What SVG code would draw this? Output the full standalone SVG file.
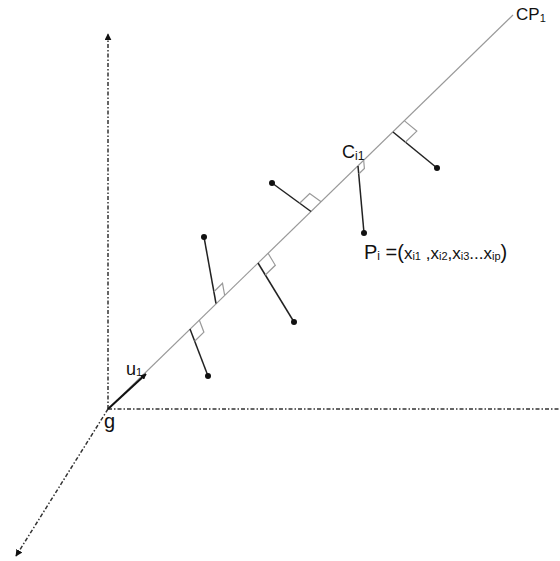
<svg xmlns="http://www.w3.org/2000/svg" width="560" height="561" viewBox="0 0 560 561">
<style>
.axis{stroke:#333;stroke-width:1.5;stroke-dasharray:4 2 1.5 2;fill:none}
.main{stroke:#999;stroke-width:1.2;fill:none}
.mark{stroke:#999;stroke-width:1.2;fill:none}
.proj{stroke:#222;stroke-width:1.5;fill:none}
.dot{fill:#111}
text{font-family:"Liberation Sans",Arial,sans-serif;fill:#111}
</style>
<defs>
<marker id="ah" viewBox="0 0 10 10" refX="9" refY="5" markerWidth="6" markerHeight="6" orient="auto" markerUnits="userSpaceOnUse">
<path d="M0,0 L10,5 L0,10 z" fill="#111"/>
</marker>
<marker id="ah2" viewBox="0 0 10 10" refX="9" refY="5" markerWidth="7" markerHeight="7" orient="auto" markerUnits="userSpaceOnUse">
<path d="M0,0 L10,5 L0,10 z" fill="#111"/>
</marker>
</defs>
<g id="connectors">
<line class="axis" x1="108" y1="409" x2="108" y2="34" marker-end="url(#ah2)"/>
<line class="axis" x1="108" y1="409" x2="560" y2="409"/>
<line class="axis" x1="108" y1="409" x2="16" y2="556" marker-end="url(#ah2)"/>
<line class="main" x1="108" y1="409" x2="513" y2="15"/>
<line x1="108" y1="409" x2="146" y2="374" stroke="#111" stroke-width="2" marker-end="url(#ah)"/>
<line class="proj" x1="216" y1="303.5" x2="204" y2="237"/>
<line class="proj" x1="258" y1="263" x2="294" y2="322"/>
<line class="proj" x1="190" y1="329" x2="208" y2="376"/>
<line class="proj" x1="311" y1="211.5" x2="272" y2="183"/>
<line class="proj" x1="358" y1="166" x2="364" y2="233"/>
<line class="proj" x1="393" y1="132" x2="437" y2="168"/>
<polyline class="mark" points="213.9,291.7 222.5,283.3 224.6,295"/>
<polyline class="mark" points="265.3,275 275.3,265.3 268.1,253.3"/>
<polyline class="mark" points="194.6,341.2 203.9,332.2 199.3,320"/>
<polyline class="mark" points="299.6,203.3 309.7,193.6 321.1,201.8"/>
<polyline class="mark" points="358.7,174 364.4,168.5 363.7,160.5"/>
<polyline class="mark" points="405.3,142.2 416.8,131.1 404.5,120.9"/>
</g>
<g id="points">
<circle class="dot" cx="204" cy="237" r="3"/>
<circle class="dot" cx="294" cy="322" r="3"/>
<circle class="dot" cx="208" cy="376" r="3"/>
<circle class="dot" cx="272" cy="183" r="3"/>
<circle class="dot" cx="364" cy="233" r="3"/>
<circle class="dot" cx="437" cy="168" r="3"/>
</g>
<g id="label-cp1"><text x="516" y="20" font-size="17">CP<tspan font-size="11" dy="2">1</tspan></text></g>
<g id="label-ci1"><text x="342" y="158" font-size="18">C<tspan font-size="12" dy="2">i1</tspan></text></g>
<g id="label-pi"><text x="364" y="259" font-size="20">P<tspan font-size="12" dy="1">i</tspan><tspan dy="-1"> =(</tspan><tspan font-size="17">x</tspan><tspan font-size="11" dy="1">i1</tspan><tspan font-size="17" dy="-1"> ,x</tspan><tspan font-size="11" dy="1">i2</tspan><tspan font-size="17" dy="-1">,x</tspan><tspan font-size="11" dy="1">i3</tspan><tspan font-size="17" dy="-1">...x</tspan><tspan font-size="11" dy="1">ip</tspan><tspan dy="-1">)</tspan></text></g>
<g id="label-u1"><text x="126" y="375" font-size="18">u<tspan font-size="11" dy="1">1</tspan></text></g>
<g id="label-g"><text x="104" y="428" font-size="20">g</text></g>
</svg>
